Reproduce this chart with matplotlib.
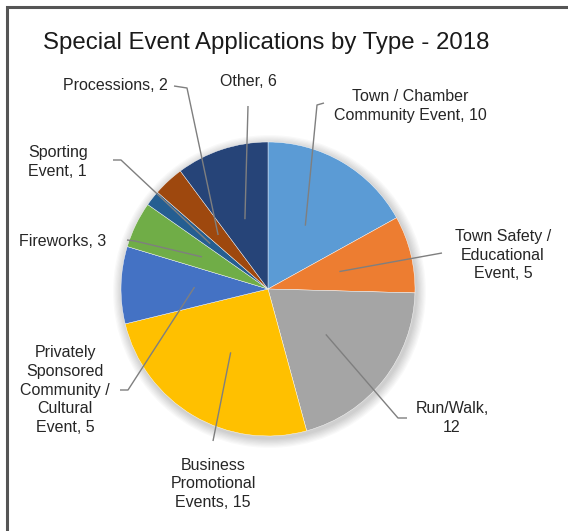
"""
Pie chart: special event applications by type, 2018.
"""
import numpy as np
import matplotlib
matplotlib.use("Agg")
import matplotlib.pyplot as plt
from matplotlib.patches import Circle

# Data (clockwise from 12 o'clock)
categories = [
    "Town / Chamber\nCommunity Event, 10",
    "Town Safety /\nEducational\nEvent, 5",
    "Run/Walk,\n12",
    "Business\nPromotional\nEvents, 15",
    "Privately\nSponsored\nCommunity /\nCultural\nEvent, 5",
    "Fireworks, 3",
    "Sporting\nEvent, 1",
    "Processions, 2",
    "Other, 6",
]
counts = [10, 5, 12, 15, 5, 3, 1, 2, 6]
colors = ["#5B9BD5", "#ED7D31", "#A5A5A5", "#FFC000", "#4472C4",
          "#70AD47", "#255E91", "#9E480E", "#264478"]

W, H = 568, 531
plt.rcParams['font.family'] = ['Liberation Sans', 'DejaVu Sans']

fig = plt.figure(figsize=(W / 100, H / 100), dpi=100)
ax = fig.add_axes([0, 0, 1, 1])


def py(y):
    # pixel row (from top) -> data y
    return H - y


# Pie geometry in pixel units
cx, cy, r = 268, py(289), 147

# soft shadow behind the pie
for i in range(8):
    ax.add_patch(Circle((cx + 1.5, cy - 2.5), r + 1 + i * 1.2,
                        color='black', alpha=0.025, lw=0, zorder=1))

wedges, _ = ax.pie(counts, colors=colors, startangle=90, counterclock=False,
                   center=(cx, cy), radius=r, frame=True,
                   wedgeprops=dict(edgecolor='white', linewidth=0.3, zorder=2))
ax.set_xlim(0, W)
ax.set_ylim(0, H)
ax.set_aspect('equal')
ax.axis('off')

# label layout: text centre (px), alignment, elbow points (px)
label_layout = [
    dict(xy=(410, 106), ha='center', elbow=[(317, 105), (324, 103)]),
    dict(xy=(503, 255), ha='center', elbow=[(442, 253)]),
    dict(xy=(452, 418), ha='center', elbow=[(398, 418), (407, 418)]),
    dict(xy=(213, 484), ha='center', elbow=[(213, 441)]),
    dict(xy=(65, 390), ha='center', elbow=[(128, 390), (120, 390)]),
    dict(xy=(63, 241), ha='center', elbow=[(135, 241), (127, 240)]),
    dict(xy=(28, 162), ha='left', elbow=[(121, 160), (113, 160)]),
    dict(xy=(115, 85), ha='center', elbow=[(187, 88), (174, 86)]),
    dict(xy=(248, 82), ha='center', elbow=[(248, 106)]),
]

line_col = '#7F7F7F'
for w, lab, lay in zip(wedges, categories, label_layout):
    mid = np.deg2rad((w.theta1 + w.theta2) / 2)
    sx = cx + 0.5 * r * np.cos(mid)
    sy = cy + 0.5 * r * np.sin(mid)
    xs = [sx] + [p[0] for p in lay['elbow']]
    ys = [sy] + [py(p[1]) for p in lay['elbow']]
    ax.plot(xs, ys, color=line_col, lw=1.0, zorder=3, solid_capstyle='butt')
    ax.text(lay['xy'][0], py(lay['xy'][1]), lab, ha=lay['ha'], va='center',
            multialignment=lay['ha'], fontsize=11.5, color='#262626',
            linespacing=1.32, zorder=4)

# title
ax.text(266, py(43), "Special Event Applications by Type - 2018",
        ha='center', va='center', fontsize=17.3, color='#1a1a1a')

# frame on the left and top edges
ax.plot([7, 7, W], [0, py(7), py(7)], color='#555555', lw=2.2,
        solid_joinstyle='miter', zorder=5)

fig.savefig("out.png", dpi=100)
